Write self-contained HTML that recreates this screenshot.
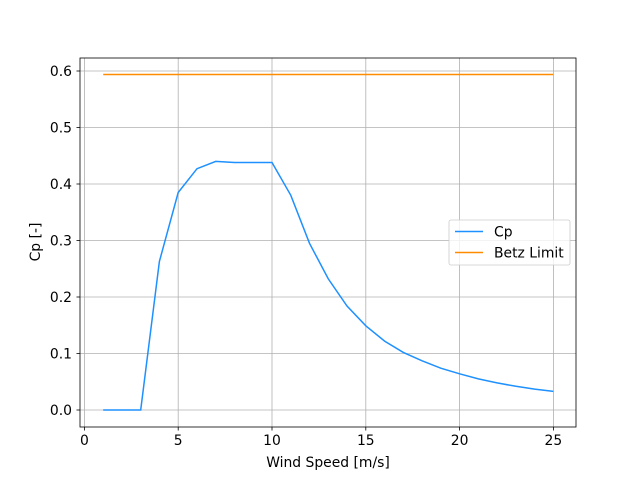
<!DOCTYPE html>
<html><head><meta charset="utf-8"><style>body{margin:0;background:#fff}svg{display:block}text{font-family:"DejaVu Sans","Liberation Sans",sans-serif;font-size:13.9px;fill:#000}</style></head><body>
<svg width="640" height="480" viewBox="0 0 640 480" xmlns="http://www.w3.org/2000/svg">
<rect width="640" height="480" fill="#fff"/>
<g stroke="#b0b0b0" stroke-width="0.8">
<line x1="84.4" y1="58" x2="84.4" y2="427"/><line x1="178.2" y1="58" x2="178.2" y2="427"/><line x1="272" y1="58" x2="272" y2="427"/><line x1="365.8" y1="58" x2="365.8" y2="427"/><line x1="459.6" y1="58" x2="459.6" y2="427"/><line x1="553.4" y1="58" x2="553.4" y2="427"/>
<line x1="80" y1="410" x2="576" y2="410"/><line x1="80" y1="353.5" x2="576" y2="353.5"/><line x1="80" y1="297" x2="576" y2="297"/><line x1="80" y1="240.5" x2="576" y2="240.5"/><line x1="80" y1="184" x2="576" y2="184"/><line x1="80" y1="127.5" x2="576" y2="127.5"/><line x1="80" y1="71" x2="576" y2="71"/>
</g>
<polyline fill="none" stroke="#1e90ff" stroke-width="1.5" points="103.2,410 121.9,410 140.7,410 159.4,261.4 178.2,192.5 197,168.7 215.7,161.4 234.5,162.5 253.2,162.5 272,162.5 290.8,195.3 309.5,243.3 328.3,278.9 347,306 365.8,325.8 384.6,341.1 403.3,352.4 422.1,360.8 440.8,368.2 459.6,373.8 478.4,378.9 497.1,382.9 515.9,386.3 534.6,389.1 553.4,391.4"/>
<line x1="103.2" y1="74.5" x2="553.4" y2="74.5" stroke="#ff8c00" stroke-width="1.5"/>
<rect x="80" y="58" width="496" height="369" fill="none" stroke="#000" stroke-width="0.8"/>
<g stroke="#000" stroke-width="0.8">
<line x1="84.4" y1="427" x2="84.4" y2="430.5"/><line x1="178.2" y1="427" x2="178.2" y2="430.5"/><line x1="272" y1="427" x2="272" y2="430.5"/><line x1="365.8" y1="427" x2="365.8" y2="430.5"/><line x1="459.6" y1="427" x2="459.6" y2="430.5"/><line x1="553.4" y1="427" x2="553.4" y2="430.5"/>
<line x1="76.5" y1="410" x2="80" y2="410"/><line x1="76.5" y1="353.5" x2="80" y2="353.5"/><line x1="76.5" y1="297" x2="80" y2="297"/><line x1="76.5" y1="240.5" x2="80" y2="240.5"/><line x1="76.5" y1="184" x2="80" y2="184"/><line x1="76.5" y1="127.5" x2="80" y2="127.5"/><line x1="76.5" y1="71" x2="80" y2="71"/>
</g>
<g text-anchor="middle">
<text x="84.4" y="445">0</text><text x="178.2" y="445">5</text><text x="272" y="445">10</text><text x="365.8" y="445">15</text><text x="459.6" y="445">20</text><text x="553.4" y="445">25</text>
<text x="328" y="467">Wind Speed [m/s]</text>
</g>
<g text-anchor="end">
<text x="72" y="415">0.0</text><text x="72" y="358.5">0.1</text><text x="72" y="302">0.2</text><text x="72" y="245.5">0.3</text><text x="72" y="189">0.4</text><text x="72" y="132.5">0.5</text><text x="72" y="76">0.6</text>
</g>
<text x="40" y="242" text-anchor="middle" transform="rotate(-90 40 242)">Cp [-]</text>
<rect x="449" y="220" width="121" height="45" rx="2" fill="#fff" fill-opacity="0.8" stroke="#ccc" stroke-width="0.8"/>
<line x1="455" y1="231.5" x2="483" y2="231.5" stroke="#1e90ff" stroke-width="1.5"/>
<text x="494" y="236.5">Cp</text>
<line x1="455" y1="252.5" x2="483" y2="252.5" stroke="#ff8c00" stroke-width="1.5"/>
<text x="494" y="257.5">Betz Limit</text>
</svg>
</body></html>
